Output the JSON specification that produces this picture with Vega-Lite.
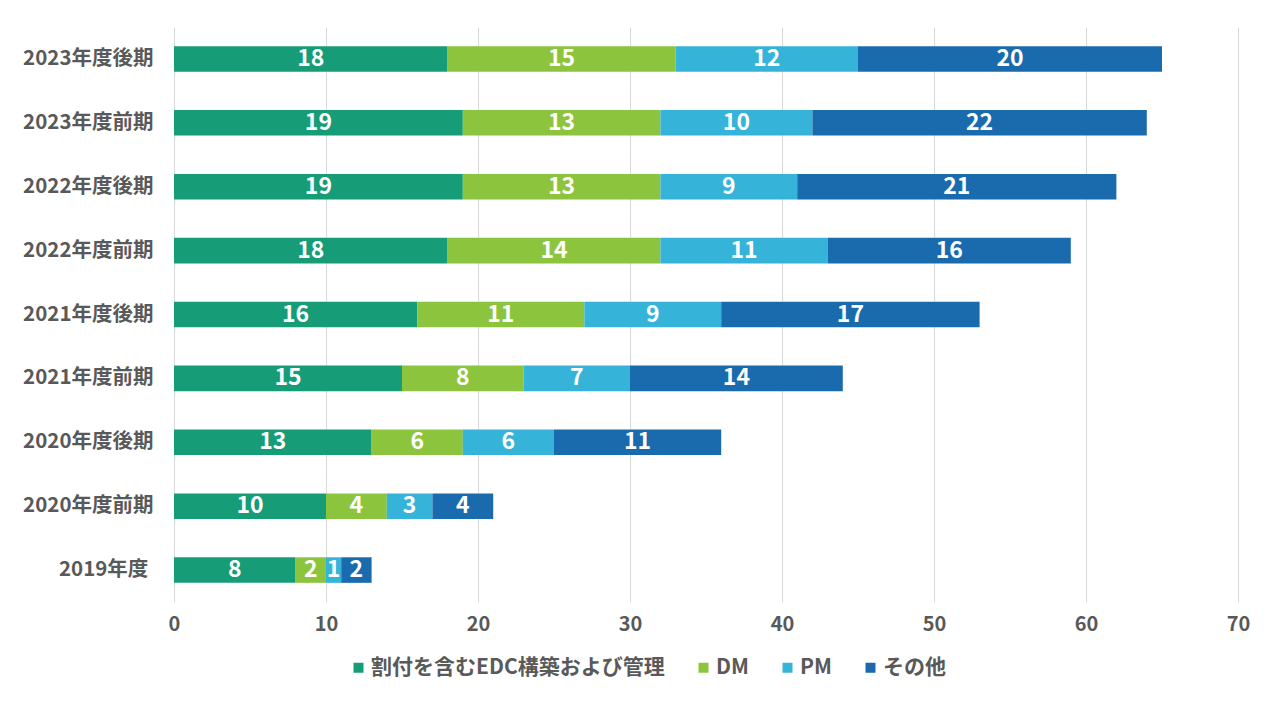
{
  "$schema": "https://vega.github.io/schema/vega-lite/v6.json",
  "width": 1064,
  "height": 575,
  "autosize": {"type": "none"},
  "padding": {"left": 174, "top": 27, "right": 42, "bottom": 118},
  "background": "white",
  "config": {
    "font": "Noto Sans CJK JP",
    "view": {"stroke": null}
  },
  "data": {
    "values": [
      {"period": "2023年度後期", "cat": "割付を含むEDC構築および管理", "value": 18},
      {"period": "2023年度後期", "cat": "DM", "value": 15},
      {"period": "2023年度後期", "cat": "PM", "value": 12},
      {"period": "2023年度後期", "cat": "その他", "value": 20},
      {"period": "2023年度前期", "cat": "割付を含むEDC構築および管理", "value": 19},
      {"period": "2023年度前期", "cat": "DM", "value": 13},
      {"period": "2023年度前期", "cat": "PM", "value": 10},
      {"period": "2023年度前期", "cat": "その他", "value": 22},
      {"period": "2022年度後期", "cat": "割付を含むEDC構築および管理", "value": 19},
      {"period": "2022年度後期", "cat": "DM", "value": 13},
      {"period": "2022年度後期", "cat": "PM", "value": 9},
      {"period": "2022年度後期", "cat": "その他", "value": 21},
      {"period": "2022年度前期", "cat": "割付を含むEDC構築および管理", "value": 18},
      {"period": "2022年度前期", "cat": "DM", "value": 14},
      {"period": "2022年度前期", "cat": "PM", "value": 11},
      {"period": "2022年度前期", "cat": "その他", "value": 16},
      {"period": "2021年度後期", "cat": "割付を含むEDC構築および管理", "value": 16},
      {"period": "2021年度後期", "cat": "DM", "value": 11},
      {"period": "2021年度後期", "cat": "PM", "value": 9},
      {"period": "2021年度後期", "cat": "その他", "value": 17},
      {"period": "2021年度前期", "cat": "割付を含むEDC構築および管理", "value": 15},
      {"period": "2021年度前期", "cat": "DM", "value": 8},
      {"period": "2021年度前期", "cat": "PM", "value": 7},
      {"period": "2021年度前期", "cat": "その他", "value": 14},
      {"period": "2020年度後期", "cat": "割付を含むEDC構築および管理", "value": 13},
      {"period": "2020年度後期", "cat": "DM", "value": 6},
      {"period": "2020年度後期", "cat": "PM", "value": 6},
      {"period": "2020年度後期", "cat": "その他", "value": 11},
      {"period": "2020年度前期", "cat": "割付を含むEDC構築および管理", "value": 10},
      {"period": "2020年度前期", "cat": "DM", "value": 4},
      {"period": "2020年度前期", "cat": "PM", "value": 3},
      {"period": "2020年度前期", "cat": "その他", "value": 4},
      {"period": "2019年度\u2005\u200b", "cat": "割付を含むEDC構築および管理", "value": 8},
      {"period": "2019年度\u2005\u200b", "cat": "DM", "value": 2},
      {"period": "2019年度\u2005\u200b", "cat": "PM", "value": 1},
      {"period": "2019年度\u2005\u200b", "cat": "その他", "value": 2}
    ]
  },
  "transform": [
    {"calculate": "indexof(['割付を含むEDC構築および管理','DM','PM','その他'], datum.cat)", "as": "k"},
    {"stack": "value", "groupby": ["period"], "sort": [{"field": "k", "order": "ascending"}], "as": ["x0", "x1"]},
    {"calculate": "(datum.x0 + datum.x1) / 2", "as": "mid"}
  ],
  "encoding": {
    "y": {
      "field": "period",
      "type": "nominal",
      "sort": ["2023年度後期", "2023年度前期", "2022年度後期", "2022年度前期", "2021年度後期", "2021年度前期", "2020年度後期", "2020年度前期", "2019年度\u2005\u200b"],
      "scale": {"paddingInner": 0.6, "paddingOuter": 0.3},
      "axis": {
        "title": null,
        "domain": false,
        "ticks": false,
        "labelPadding": 21,
        "labelFontSize": 20.5,
        "labelFontWeight": "bold",
        "labelColor": "#595959"
      }
    }
  },
  "layer": [
    {
      "mark": {"type": "bar", "cornerRadius": 0},
      "encoding": {
        "x": {
          "field": "x0",
          "type": "quantitative",
          "scale": {"domain": [0, 70], "nice": false},
          "axis": {
            "title": null,
            "values": [0, 10, 20, 30, 40, 50, 60, 70],
            "domain": false,
            "ticks": false,
            "grid": true,
            "gridColor": "#d9d9d9",
            "gridWidth": 1,
            "labelFlush": false,
            "labelPadding": 12,
            "labelFontSize": 20,
            "labelFontWeight": "bold",
            "labelColor": "#595959"
          }
        },
        "x2": {"field": "x1"},
        "color": {
          "field": "cat",
          "type": "nominal",
          "scale": {
            "domain": ["割付を含むEDC構築および管理", "DM", "PM", "その他"],
            "range": ["#169c77", "#8cc43e", "#35b3d8", "#1a6bad"]
          },
          "legend": {
            "title": null,
            "orient": "none",
            "direction": "horizontal",
            "legendX": 174,
            "legendY": 630,
            "symbolType": "square",
            "symbolSize": 100,
            "symbolStrokeWidth": 0,
            "labelFontSize": 21,
            "labelFontWeight": "bold",
            "labelColor": "#595959",
            "labelLimit": 0,
            "labelOffset": 2,
            "columnPadding": 28
          }
        }
      }
    },
    {
      "mark": {"type": "text", "color": "white", "fontSize": 23, "fontWeight": "bold", "baseline": "middle", "align": "center"},
      "encoding": {
        "x": {"field": "mid", "type": "quantitative"},
        "text": {"field": "value", "type": "quantitative"}
      }
    }
  ]
}
